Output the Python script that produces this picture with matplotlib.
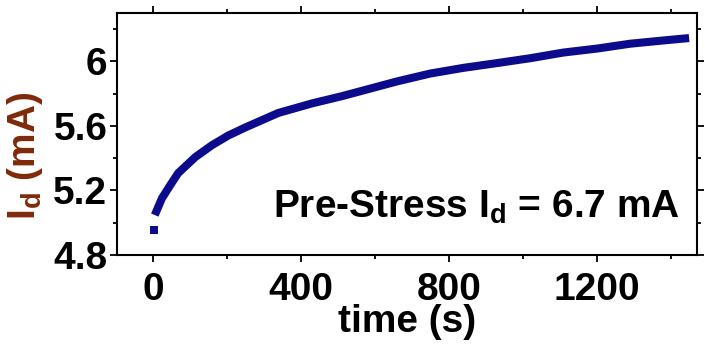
import matplotlib
matplotlib.use('Agg')
import matplotlib.pyplot as plt
from matplotlib.ticker import MultipleLocator

plt.rcParams['font.family'] = 'Liberation Sans'
plt.rcParams['font.weight'] = 'bold'
plt.rcParams['mathtext.fontset'] = 'custom'
plt.rcParams['mathtext.rm'] = 'Liberation Sans:bold'
plt.rcParams['mathtext.bf'] = 'Liberation Sans:bold'
plt.rcParams['mathtext.it'] = 'Liberation Sans:bold'

# values
time_s = [5, 24, 46, 68, 114, 159, 203, 249, 338, 430, 511, 568, 659,
          749, 838, 930, 1019, 1108, 1200, 1289, 1378, 1448]
id_ma = [5.047, 5.15, 5.23, 5.307, 5.406, 5.48, 5.54, 5.59, 5.68, 5.74,
         5.785, 5.82, 5.876, 5.925, 5.96, 5.99, 6.02, 6.055, 6.08, 6.11,
         6.13, 6.145]
first_t = [4]
first_id = [4.955]

xticks = [0, 400, 800, 1200]
yticks = [4.8, 5.2, 5.6, 6.0]
yticklabels = ['4.8', '5.2', '5.6', '6']

fig = plt.figure(figsize=(7.05, 3.44), dpi=100)
ax = fig.add_axes([0.166, 0.259, 0.823, 0.703])

navy = '#0b0b8c'
ax.plot(time_s, id_ma, '-', color=navy, lw=5.8, solid_capstyle='butt',
        solid_joinstyle='round')
ax.plot(first_t, first_id, 's', color=navy, ms=5.5, mew=0)

ax.set_xlim(-97, 1470)
ax.set_ylim(4.8, 6.3)
ax.set_xticks(xticks)
ax.set_yticks(yticks)
ax.set_yticklabels(yticklabels)
ax.xaxis.set_minor_locator(MultipleLocator(200))
ax.yaxis.set_minor_locator(MultipleLocator(0.2))

ax.tick_params(which='both', direction='out', top=True, right=True,
               labelsize=28, width=1.3)
ax.tick_params(axis='x', pad=7)
ax.tick_params(axis='y', pad=2)
ax.tick_params(which='major', length=5)
ax.tick_params(which='minor', length=3)
for s in ax.spines.values():
    s.set_linewidth(1.5)

ax.set_xlabel('time (s)', fontsize=28, fontweight='bold')
ax.xaxis.set_label_coords(0.5, -0.205)
ax.set_ylabel(r'I$_\mathbf{d}$ (mA)', fontsize=28, fontweight='bold',
              color='#7f2a0a')
ax.yaxis.set_label_coords(-0.125, 0.41)

ax.text(0.97, 0.195, r'Pre-Stress I$_\mathbf{d}$ = 6.7 mA', transform=ax.transAxes,
        ha='right', va='center', fontsize=28, fontweight='bold')

fig.savefig('out.png', dpi=100)
